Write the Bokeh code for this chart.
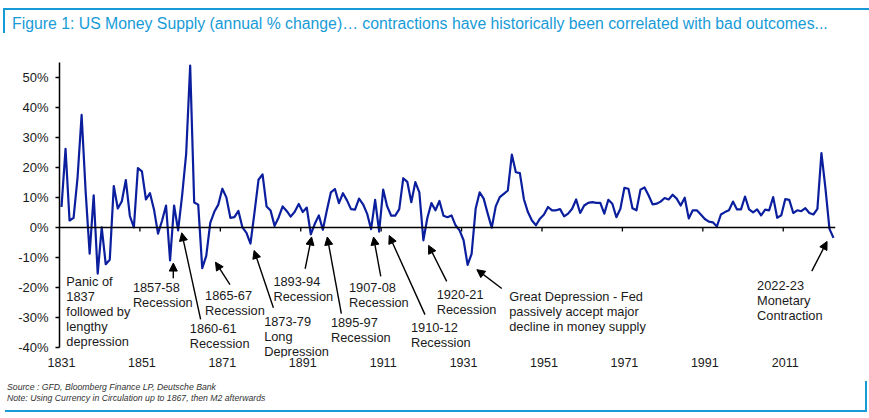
from bokeh.plotting import figure
from bokeh.models import (Range1d, FixedTicker, PrintfTickFormatter, Span, ColumnDataSource,
                          LabelSet, Arrow, NormalHead, Div)
from bokeh.layouts import column
from bokeh.core.properties import value
from bokeh.embed import file_html
from bokeh.resources import INLINE

# ---------------- data ----------------
years = list(range(1831, 2024))
money_growth = [
    6.8, 26.2, 2.3, 3.2, 16.8, 37.5, 12.0, -8.8, 10.7, -15.4,      # 1831-1840
    0.0, -12.3, -10.8, 13.8, 6.3, 8.7, 15.8, 3.8, 0.0, 19.8,       # 1841-1850
    18.7, 9.3, 11.4, 6.0, -2.1, 2.2, 7.3, -11.0, 7.3, -1.0,        # 1851-1860
    10.7, 24.5, 54.0, 8.3, 7.6, -13.6, -9.5, 1.5, 5.2, 7.6,        # 1861-1870
    12.9, 10.0, 3.2, 3.4, 5.5, 0.0, -1.8, -5.4, 5.0, 15.9,         # 1871-1880
    17.7, 7.0, 5.6, 0.5, 3.3, 7.0, 5.5, 3.6, 5.2, 7.8,             # 1881-1890
    5.1, 6.6, -2.3, 1.2, 4.0, -0.8, 5.7, 11.7, 12.8, 8.1,          # 1891-1900
    11.4, 9.0, 6.1, 5.9, 9.6, 7.7, 4.6, -0.6, 9.2, -1.4,           # 1901-1910
    12.6, 7.0, 3.9, 3.9, 6.1, 16.4, 15.2, 8.4, 15.1, 11.7,         # 1911-1920
    -4.3, 3.2, 8.1, 5.7, 8.8, 3.9, 3.4, 4.0, 0.7, -1.0,            # 1921-1930
    -4.3, -12.5, -8.8, 6.2, 11.7, 9.6, 4.6, -0.1, 7.0, 10.1,       # 1931-1940
    11.2, 12.3, 24.3, 18.4, 18.1, 9.4, 5.1, 2.3, 0.7, 2.9,         # 1941-1950
    4.3, 6.8, 5.7, 5.7, 6.1, 3.7, 4.6, 6.2, 9.3, 4.8,              # 1951-1960
    7.3, 8.2, 8.4, 8.2, 8.2, 4.6, 9.2, 7.9, 3.4, 6.2,              # 1961-1970
    13.2, 12.9, 6.4, 5.7, 12.6, 13.3, 10.7, 7.7, 7.9, 8.6,         # 1971-1980
    9.8, 9.3, 10.9, 9.6, 7.3, 9.9, 3.0, 5.7, 5.7, 4.3,             # 1981-1990
    2.8, 1.9, 1.7, 0.3, 4.3, 5.1, 5.7, 8.6, 6.0, 6.0,              # 1991-2000
    10.3, 6.0, 5.0, 6.0, 4.0, 5.9, 5.7, 10.1, 3.2, 4.0,            # 2001-2010
    9.4, 9.2, 4.8, 5.7, 5.4, 6.4, 4.8, 4.3, 6.2, 24.8,             # 2011-2020
    13.0, -0.5, -3.5,                                              # 2021-2023
]
x_tick_years = [1831, 1851, 1871, 1891, 1911, 1931, 1951, 1971, 1991, 2011]
y_ticks = [-40, -30, -20, -10, 0, 10, 20, 30, 40, 50]

title_text = ("Figure 1: US Money Supply (annual % change)\u2026 contractions have historically "
              "been correlated with bad outcomes...")
source_lines = ["Source : GFD, Bloomberg Finance LP, Deutsche Bank",
                "Note: Using Currency in Circulation up to 1867, then M2 afterwards"]

# annotations: text, anchor (year, % at centre of first line)
ann_text = [
    "Panic of\n1837\nfollowed by\nlengthy\ndepression",
    "1857-58\nRecession",
    "1860-61\nRecession",
    "1865-67\nRecession",
    "1873-79\nLong\nDepression",
    "1893-94\nRecession",
    "1895-97\nRecession",
    "1907-08\nRecession",
    "1910-12\nRecession",
    "1920-21\nRecession",
    "Great Depression - Fed\npassively accept major\ndecline in money supply",
    "2022-23\nMonetary\nContraction",
]
ann_x = [1832.2, 1848.75, 1862.9, 1866.7, 1881.4, 1883.7, 1898.0, 1902.5, 1917.9, 1924.3, 1942.35, 2004.0]
ann_y = [-18.2, -20.2, -33.8, -22.7, -31.3, -17.9, -31.8, -19.9, -33.4, -22.3, -23.0, -19.3]

arrow_x0 = [1858.8, 1865.6, 1872.9, 1883.7, 1891.6, 1900.6, 1910.4, 1921.4, 1926.8, 1940.5, 2017.6]
arrow_y0 = [-17.0, -30.7, -19.1, -26.8, -13.8, -28.8, -16.3, -29.1, -18.0, -20.4, -14.6]
arrow_x1 = [1858.8, 1860.9, 1869.3, 1878.9, 1893.2, 1897.1, 1908.6, 1912.5, 1922.3, 1934.3, 2021.4]
arrow_y1 = [-11.9, -1.8, -11.6, -7.7, -3.2, -3.2, -3.2, -2.7, -6.0, -14.1, -4.7]

# ---------------- styling ----------------
FONT = "Liberation Sans"
BLUE = "#179BD7"
LINE = "#0B1F9E"
INK = "#1a1a1a"
W = 869
LINE_STEP = 5.0  # vertical step between annotation lines, in % units (15 px)

header = Div(text=title_text, width=866, height=25, margin=(8, 0, 12, 3),
             styles={"box-sizing": "border-box",
                     "border-top": f"2px solid {BLUE}", "border-left": f"2px solid {BLUE}",
                     "padding": "5px 0 0 7px", "color": BLUE, "font-family": FONT,
                     "font-size": "15.8px", "line-height": "18px", "white-space": "nowrap",
                     "overflow": "visible"})

# main chart
p = figure(width=W, height=332, x_range=Range1d(1830.5, 2023.5), y_range=Range1d(-43.4, 55),
           output_backend="svg", toolbar_location=None,
           min_border_left=59, min_border_right=34, min_border_top=17, min_border_bottom=20)
p.outline_line_color = None
p.grid.visible = False

p.xaxis.ticker = FixedTicker(ticks=x_tick_years)
p.xaxis.axis_line_color = None
p.xaxis.major_tick_out = 0
p.xaxis.major_tick_in = 0
p.xaxis.minor_tick_line_color = None
p.xaxis.major_label_standoff = 0
p.xaxis.major_label_text_font = FONT
p.xaxis.major_label_text_font_size = "12.5px"
p.xaxis.major_label_text_color = INK

p.yaxis.ticker = FixedTicker(ticks=y_ticks)
p.yaxis.bounds = (-40, 55)
p.yaxis.formatter = PrintfTickFormatter(format="%d%%")
p.yaxis.axis_line_color = "black"
p.yaxis.axis_line_width = 1.5
p.yaxis.major_tick_line_color = "black"
p.yaxis.major_tick_line_width = 1.5
p.yaxis.major_tick_out = 4
p.yaxis.major_tick_in = 0
p.yaxis.minor_tick_line_color = None
p.yaxis.major_label_standoff = 7
p.yaxis.major_label_text_font = FONT
p.yaxis.major_label_text_font_size = "13px"
p.yaxis.major_label_text_color = INK

p.add_layout(Span(location=0, dimension="width", line_color="black", line_width=1.5))
tick_bounds = [t - 0.5 for t in x_tick_years[1:]]
p.segment(x0=tick_bounds, y0=[0] * len(tick_bounds), x1=tick_bounds, y1=[-1.4] * len(tick_bounds),
          line_color="black", line_width=1.3)

p.line(years, money_growth, line_color=LINE, line_width=2.2, line_join="round")

lx, ly, lt = [], [], []
for txt, x0, y0 in zip(ann_text, ann_x, ann_y):
    for i, ln in enumerate(txt.split("\n")):
        lx.append(x0)
        ly.append(y0 - LINE_STEP * i)
        lt.append(ln)
p.add_layout(LabelSet(x="x", y="y", text="t", source=ColumnDataSource(dict(x=lx, y=ly, t=lt)),
                      text_font=value(FONT), text_font_size="12.8px", text_color=INK,
                      text_baseline="middle", text_align="left"))
p.add_layout(Arrow(end=NormalHead(size=8, fill_color="black", line_color="black", line_width=1),
                   source=ColumnDataSource(dict(x0=arrow_x0, y0=arrow_y0, x1=arrow_x1, y1=arrow_y1)),
                   x_start="x0", y_start="y0", x_end="x1", y_end="y1",
                   line_color="black", line_width=1.4))

footer = Div(text="<br>".join(source_lines), width=862, height=31, margin=(4, 0, 0, 5),
             styles={"box-sizing": "border-box",
                     "border-right": f"2px solid {BLUE}", "border-bottom": f"2px solid {BLUE}",
                     "padding": "1px 0 0 2px", "color": "#333333", "font-family": FONT,
                     "font-style": "italic", "font-size": "8.7px", "line-height": "11px",
                     "white-space": "nowrap"})

layout = column(header, p, footer, spacing=0)
open("out.html", "w").write(file_html(layout, INLINE))
